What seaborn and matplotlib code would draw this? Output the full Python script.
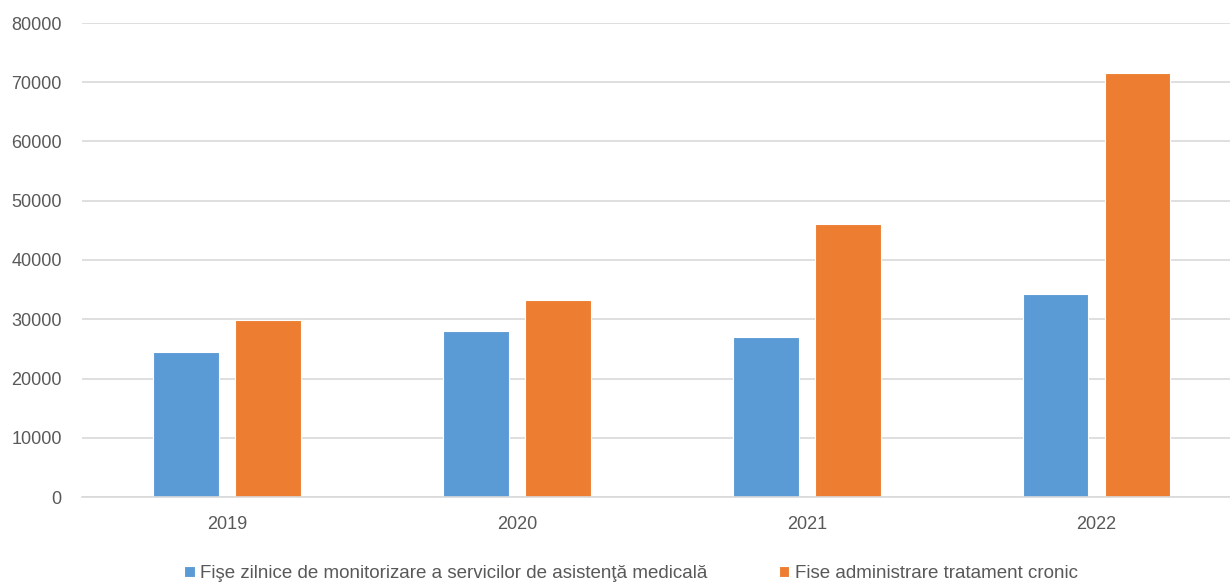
import matplotlib
matplotlib.use("Agg")
import matplotlib.pyplot as plt
import pandas as pd
import seaborn as sns

# Data
years = ["2019", "2020", "2021", "2022"]
fise_monitorizare = [24500, 28000, 27000, 34200]
fise_tratament = [29800, 33200, 46100, 71500]
series_names = [
    "Fişe zilnice de monitorizare a servicilor de asistenţă medicală",
    "Fise administrare tratament cronic",
]
y_ticks = [0, 10000, 20000, 30000, 40000, 50000, 60000, 70000, 80000]

colors = ["#5B9BD5", "#ED7D31"]
text_color = "#595959"
grid_color = "#D9D9D9"

df = pd.DataFrame({
    "An": years * 2,
    "Valoare": fise_monitorizare + fise_tratament,
    "Serie": [series_names[0]] * len(years) + [series_names[1]] * len(years),
})

sns.set_style("white")
plt.rcParams["font.family"] = ["Liberation Sans", "DejaVu Sans"]

fig = plt.figure(figsize=(12.3, 5.85), dpi=100)
ax = fig.add_axes([82 / 1230, 88 / 585, 1 - 82 / 1230, (497 - 23) / 585])

sns.barplot(
    data=df, x="An", y="Valoare", hue="Serie", ax=ax,
    palette=colors, width=0.566, gap=0.2, errorbar=None,
    saturation=1, linewidth=0.8, edgecolor="white",
)

ax.set_ylim(0, 80000)
ax.set_yticks(y_ticks)
ax.set_xlim(-0.5, 3.46)
ax.grid(True, axis="y", color=grid_color, linewidth=1.2)
ax.set_axisbelow(True)
for side in ["top", "right", "left"]:
    ax.spines[side].set_visible(False)
ax.spines["bottom"].set_color(grid_color)
ax.spines["bottom"].set_linewidth(1.2)
ax.tick_params(axis="both", length=0, labelsize=13, colors=text_color)
ax.tick_params(axis="y", pad=14.5)
ax.tick_params(axis="x", pad=14)
ax.set_xlabel("")
ax.set_ylabel("")

handles, labels = ax.get_legend_handles_labels()
ax.legend(
    handles, labels, loc="lower center", bbox_to_anchor=(0.5 - 25 / 1148, -0.215),
    ncol=2, frameon=False, fontsize=13.5, labelcolor=text_color,
    handlelength=0.55, handleheight=0.55, handletextpad=0.3, columnspacing=3.8,
)

fig.savefig("out.png", dpi=100)
